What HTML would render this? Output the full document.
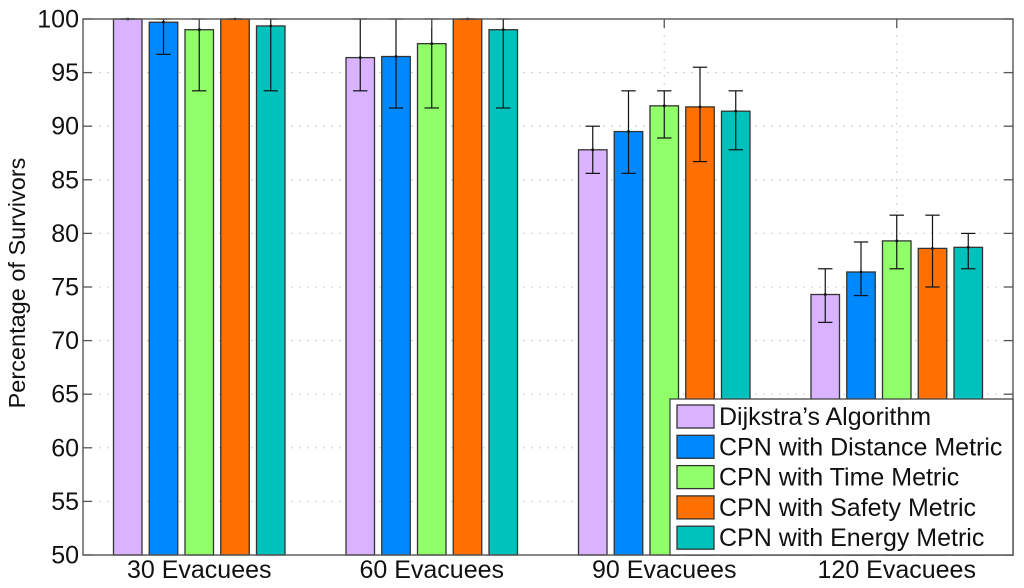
<!DOCTYPE html>
<html>
<head>
<meta charset="utf-8">
<style>
html,body{margin:0;padding:0;background:#fff;width:1024px;height:588px;overflow:hidden}
svg{display:block}
text{font-family:"Liberation Sans",sans-serif;fill:#111}
</style>
</head>
<body>
<svg id="chart" width="1024" height="588" viewBox="0 0 1024 588" xmlns="http://www.w3.org/2000/svg"></svg>
<script>
const categories = ["30 Evacuees", "60 Evacuees", "90 Evacuees", "120 Evacuees"];
const seriesNames = ["Dijkstra\u2019s Algorithm", "CPN with Distance Metric", "CPN with Time Metric", "CPN with Safety Metric", "CPN with Energy Metric"];
const seriesKeys = ["dijkstra", "distance", "time", "safety", "energy"];
const seriesColors = ["#d9b3ff", "#0088ff", "#90ff6a", "#ff7000", "#00c2bc"];
const dijkstraValues = [100, 96.4, 87.8, 74.3];
const dijkstraLow = [100, 93.3, 85.6, 71.7];
const dijkstraHigh = [100, 100, 90, 76.7];
const distanceValues = [99.7, 96.5, 89.5, 76.4];
const distanceLow = [96.7, 91.7, 85.6, 74.2];
const distanceHigh = [100, 100, 93.3, 79.2];
const timeValues = [99, 97.7, 91.9, 79.3];
const timeLow = [93.3, 91.7, 88.9, 76.7];
const timeHigh = [100, 100, 93.3, 81.7];
const safetyValues = [100, 100, 91.8, 78.6];
const safetyLow = [100, 100, 86.7, 75];
const safetyHigh = [100, 100, 95.5, 81.7];
const energyValues = [99.35, 99, 91.4, 78.7];
const energyLow = [93.3, 91.7, 87.8, 76.7];
const energyHigh = [100, 100, 93.3, 80];
const yTicks = [50, 55, 60, 65, 70, 75, 80, 85, 90, 95, 100];

const allValues = [dijkstraValues, distanceValues, timeValues, safetyValues, energyValues];
const allLow = [dijkstraLow, distanceLow, timeLow, safetyLow, energyLow];
const allHigh = [dijkstraHigh, distanceHigh, timeHigh, safetyHigh, energyHigh];

const svg = document.getElementById('chart');
const NS = 'http://www.w3.org/2000/svg';
const plot = {left: 83, right: 1013, top: 19, bottom: 555};
const yMin = 50, yMax = 100;

function yScale(v) { return plot.bottom - (v - yMin) * (plot.bottom - plot.top) / (yMax - yMin); }
function xScale(i) { return plot.left + (i + 0.5) * (plot.right - plot.left) / categories.length; }
function barCenter(i, s) { return xScale(i) + (s - 2) * 35.75; }

function make(tag, attrs, parent) {
  const el = document.createElementNS(NS, tag);
  for (const k in attrs) el.setAttribute(k, attrs[k]);
  (parent || svg).appendChild(el);
  return el;
}
const AXIS = '#555';

// grid
const gridGroup = make('g', {});


yTicks.forEach(function (t) {
  if (t === yMin || t === yMax) return;
  const line = make('line', {x1: plot.left, x2: plot.right, y1: yScale(t), y2: yScale(t), stroke: '#bbb', 'stroke-width': 1, 'stroke-dasharray': '1.5 6.5'}, gridGroup);
  
  
});
categories.forEach(function (c, i) {
  const line = make('line', {x1: xScale(i), x2: xScale(i), y1: plot.top, y2: plot.bottom, stroke: '#bbb', 'stroke-width': 1, 'stroke-dasharray': '1.5 6.5'}, gridGroup);
  
  
});

// bars
seriesNames.forEach(function (name, s) {
  categories.forEach(function (c, i) {
    const v = allValues[s][i];
    const cx = barCenter(i, s);
    const bar = make('rect', {x: cx - 14.25, y: yScale(v), width: 28.5, height: yScale(yMin) - yScale(v), fill: seriesColors[s], stroke: '#333', 'stroke-width': 1.3});
    
    
  });
});

// error bars
seriesNames.forEach(function (name, s) {
  categories.forEach(function (c, i) {
    const cx = barCenter(i, s);
    const lo = yScale(allLow[s][i]);
    const hi = yScale(allHigh[s][i]);
    const mid = yScale(allValues[s][i]);
    const g = make('g', {stroke: '#111', 'stroke-width': 1.2, fill: 'none'});
    
    
    make('line', {x1: cx, x2: cx, y1: hi, y2: lo}, g);
    make('line', {x1: cx - 7.2, x2: cx + 7.2, y1: hi, y2: hi}, g);
    make('line', {x1: cx - 7.2, x2: cx + 7.2, y1: lo, y2: lo}, g);
    make('rect', {x: cx - 1.2, y: mid - 1.2, width: 2.4, height: 2.4, fill: '#111', stroke: 'none'}, g);
  });
});

// axes frame
const frame = make('rect', {x: plot.left, y: plot.top, width: plot.right - plot.left, height: plot.bottom - plot.top, fill: 'none', stroke: AXIS, 'stroke-width': 1.4});



// y ticks
yTicks.forEach(function (t) {
  const y = yScale(t);
  const tl = make('line', {x1: plot.left, x2: plot.left + 9, y1: y, y2: y, stroke: AXIS, 'stroke-width': 1.3});
  
  
  const tr = make('line', {x1: plot.right - 9, x2: plot.right, y1: y, y2: y, stroke: AXIS, 'stroke-width': 1.3});
  
  
  const label = make('text', {x: 79, y: y + 8.5, 'text-anchor': 'end', 'font-size': 25});
  label.textContent = t;
  
  
});

// x ticks and labels
categories.forEach(function (c, i) {
  const x = xScale(i);
  const tt = make('line', {x1: x, x2: x, y1: plot.top, y2: plot.top + 9, stroke: AXIS, 'stroke-width': 1.3});
  
  
  const label = make('text', {x: x, y: 578, 'text-anchor': 'middle', 'font-size': 25});
  label.textContent = c;
  
  
});

// y axis title
const yTitle = make('text', {x: 0, y: 0, 'text-anchor': 'middle', 'font-size': 23.5, transform: 'translate(25 283) rotate(-90)'});
yTitle.textContent = 'Percentage of Survivors';



// legend
const legend = make('g', {});


const legendBox = make('rect', {x: 670, y: 399, width: 343, height: 156, fill: '#fff', stroke: '#444', 'stroke-width': 1.3}, legend);


seriesNames.forEach(function (name, s) {
  const top = 405 + s * 30.3;
  const entry = make('g', {}, legend);
  
  
  const sw = make('rect', {x: 677, y: top, width: 37, height: 23, fill: seriesColors[s], stroke: '#333', 'stroke-width': 1.3}, entry);
  
  
  const tx = make('text', {x: 719, y: top + 20, 'font-size': 25}, entry);
  tx.textContent = name;
  
  
});
</script>
</body>
</html>
